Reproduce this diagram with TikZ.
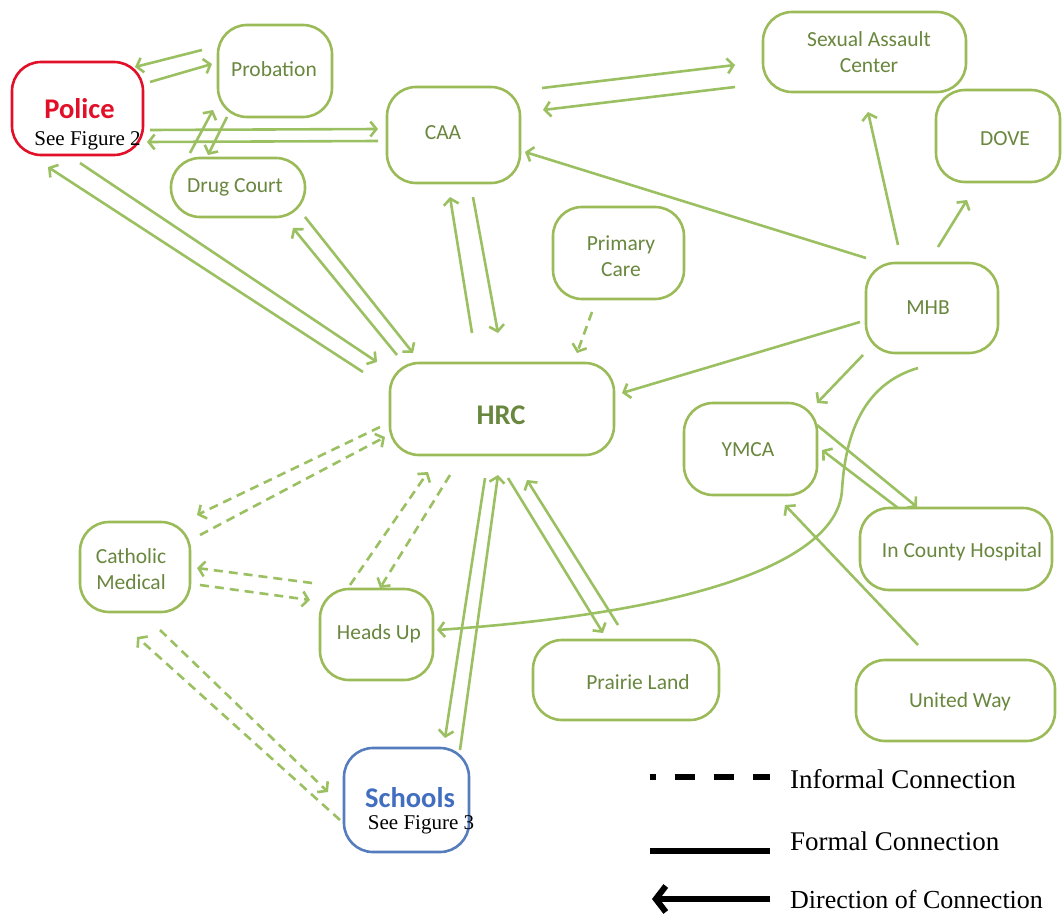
\documentclass[tikz,border=0pt]{standalone}
\usepackage{fontspec}
\setmainfont{Liberation Serif}
\newfontfamily\calib{Carlito}
\usetikzlibrary{arrows.meta,calc}
\definecolor{boxg}{RGB}{155,187,89}
\definecolor{lineg}{RGB}{155,192,98}
\definecolor{txtg}{RGB}{105,135,62}
\definecolor{polred}{RGB}{225,15,40}
\definecolor{schblue}{RGB}{85,125,190}
\definecolor{schtxt}{RGB}{65,110,190}
\begin{document}
\begin{tikzpicture}[x=1pt,y=-1pt,
  box/.style={draw=boxg, line width=2.6pt, rounded corners=29pt, inner sep=0pt, fill=white},
  lbl/.style={font=\calib\fontsize{21.5}{26}\selectfont, text=txtg, align=center, inner sep=0pt},
  bigl/.style={font=\calib\bfseries\fontsize{28.5}{32}\selectfont, inner sep=0pt},
  fig/.style={font=\fontsize{21}{24}\selectfont, text=black, inner sep=0pt, anchor=base},
  con/.style={draw=lineg, line width=2.6pt, -{Straight Barb[length=6pt,width=15pt]}},
  dsh/.style={con, dash pattern=on 9pt off 6pt},
  lgtext/.style={font=\fontsize{27}{32}\selectfont, anchor=base west, inner sep=0pt}
]
\useasboundingbox (0,0) rectangle (1062,915);

% ---------- boxes ----------
\node[box, draw=polred, minimum width=131pt, minimum height=93pt] (police) at (77.5,108.5) {};
\node[box, minimum width=114pt, minimum height=92pt] (prob) at (275,71) {};
\node[box, minimum width=133pt, minimum height=96pt] (caa) at (453.5,135) {};
\node[box, minimum width=134pt, minimum height=59pt] (drug) at (238,187.5) {};
\node[box, minimum width=203pt, minimum height=80pt] (sac) at (864.5,52) {};
\node[box, minimum width=124pt, minimum height=92pt] (dove) at (998,136) {};
\node[box, minimum width=131pt, minimum height=92pt] (prim) at (618.5,253) {};
\node[box, minimum width=132pt, minimum height=90pt] (mhb) at (932,308) {};
\node[box, minimum width=224pt, minimum height=92pt] (hrc) at (502,409) {};
\node[box, minimum width=133pt, minimum height=92pt] (ymca) at (750.5,449) {};
\node[box, minimum width=110pt, minimum height=90pt] (cath) at (135,567) {};
\node[box, minimum width=113pt, minimum height=91pt] (heads) at (376.5,634.5) {};
\node[box, minimum width=192pt, minimum height=82pt] (hosp) at (956,549) {};
\node[box, minimum width=186pt, minimum height=80pt] (prairie) at (626,680) {};
\node[box, minimum width=199pt, minimum height=81pt] (uway) at (955.5,700.5) {};
\node[box, draw=schblue, minimum width=125pt, minimum height=104pt] (schools) at (406.5,800) {};

% ---------- labels ----------
\node[bigl, text=polred, anchor=base] (police-t) at (79.5,118) {Police};
\node[fig] (police-f) at (87.5,146) {See Figure 2};
\node[lbl] (prob-t) at (274,69) {Probation};
\node[lbl] (caa-t) at (443,133) {CAA};
\node[lbl] (drug-t) at (235,187) {Drug Court};
\node[lbl] (sac-t) at (869,52) {Sexual Assault\\Center};
\node[lbl] (dove-t) at (1005,139) {DOVE};
\node[lbl] (prim-t) at (621,256) {Primary\\Care};
\node[lbl] (mhb-t) at (928,308) {MHB};
\node[bigl, text=txtg] (hrc-t) at (501,415) {HRC};
\node[lbl] (ymca-t) at (748,450) {YMCA};
\node[lbl] (cath-t) at (131,569) {Catholic\\Medical};
\node[lbl] (heads-t) at (379,634) {Heads Up};
\node[lbl] (hosp-t) at (962,552) {In County Hospital};
\node[lbl] (prairie-t) at (638,682) {Prairie Land};
\node[lbl] (uway-t) at (960,702) {United Way};
\node[bigl, text=schtxt, anchor=base] (schools-t) at (410,807) {Schools};
\node[fig] (schools-f) at (421,829) {See Figure 3};

% ---------- formal connections ----------
\draw[con] ([shift={(-73,-21)}]prob.center) -- ([shift={(57.5,-41.5)}]police.center);
\draw[con] ([shift={(72.5,-26.5)}]police.center) -- ([shift={(-63,-7)}]prob.center);
\draw[con] ([shift={(72.5,21.5)}]police.center) -- ([shift={(-75.5,-6)}]caa.center);
\draw[con] ([shift={(-75.5,6)}]caa.center) -- ([shift={(69.5,33.5)}]police.center);
\draw[con] ([shift={(-48,-34.5)}]drug.center) -- ([shift={(-62,39)}]prob.center);
\draw[con] ([shift={(-48,46)}]prob.center) -- ([shift={(-30,-32.5)}]drug.center);
\draw[con] ([shift={(-139,-37)}]hrc.center) -- ([shift={(-29.5,58.5)}]police.center);
\draw[con] ([shift={(2.5,54.5)}]police.center) -- ([shift={(-125,-47)}]hrc.center);
\draw[con] ([shift={(-105,-54)}]hrc.center) -- ([shift={(55,40.5)}]drug.center);
\draw[con] ([shift={(67,29.5)}]drug.center) -- ([shift={(-89,-56)}]hrc.center);
\draw[con] ([shift={(-30,-76)}]hrc.center) -- ([shift={(-3.5,62)}]caa.center);
\draw[con] ([shift={(19.5,62)}]caa.center) -- ([shift={(-4,-76)}]hrc.center);
\draw[con] ([shift={(-72,14)}]mhb.center) -- ([shift={(120,-16)}]hrc.center);
\draw[con] ([shift={(-66,-50)}]mhb.center) -- ([shift={(71.5,17)}]caa.center);
\draw[con] ([shift={(88.5,-47)}]caa.center) -- ([shift={(-129.5,13)}]sac.center);
\draw[con] ([shift={(-129.5,35)}]sac.center) -- ([shift={(89.5,-25)}]caa.center);
\draw[con] ([shift={(-34,-63)}]mhb.center) -- ([shift={(3.5,60)}]sac.center);
\draw[con] ([shift={(6,-61)}]mhb.center) -- ([shift={(-31,64)}]dove.center);
\draw[con] ([shift={(-69,47)}]mhb.center) -- ([shift={(66.5,-46)}]ymca.center);
\draw[con] ([shift={(-14,60)}]mhb.center) .. controls (860,385) and (845,440) .. (842,490)
   .. controls (838,560) and (700,612) .. ([shift={(60.5,-4.5)}]heads.center);
\draw[con] ([shift={(66.5,-24)}]ymca.center) -- ([shift={(-39,-42)}]hosp.center);
\draw[con] ([shift={(-58,-41)}]hosp.center) -- ([shift={(71.5,1)}]ymca.center);
\draw[con] ([shift={(-37.5,-55.5)}]uway.center) -- ([shift={(34.5,56)}]ymca.center);
\draw[con] ([shift={(6,69)}]hrc.center) -- ([shift={(-23,-47)}]prairie.center);
\draw[con] ([shift={(-8,-55)}]prairie.center) -- ([shift={(25,71)}]hrc.center);
\draw[con] ([shift={(-17,69)}]hrc.center) -- ([shift={(38.5,-62)}]schools.center);
\draw[con] ([shift={(53.5,-50)}]schools.center) -- ([shift={(-4,66)}]hrc.center);

% ---------- informal connections ----------
\draw[dsh] ([shift={(-26.5,59)}]prim.center) -- ([shift={(75,-56)}]hrc.center);
\draw[dsh] ([shift={(-26.5,-49.5)}]heads.center) -- ([shift={(-74,63)}]hrc.center);
\draw[dsh] ([shift={(-52,66)}]hrc.center) -- ([shift={(3.5,-46.5)}]heads.center);
\draw[dsh] ([shift={(-122,18)}]hrc.center) -- ([shift={(62,-52)}]cath.center);
\draw[dsh] ([shift={(65,-32)}]cath.center) -- ([shift={(-117,28)}]hrc.center);
\draw[dsh] ([shift={(-64.5,-51.5)}]heads.center) -- ([shift={(62,1)}]cath.center);
\draw[dsh] ([shift={(65,18)}]cath.center) -- ([shift={(-66.5,-34.5)}]heads.center);
\draw[dsh] ([shift={(-66.5,20)}]schools.center) -- ([shift={(2,70)}]cath.center);
\draw[dsh] ([shift={(25,63)}]cath.center) -- ([shift={(-78.5,-8)}]schools.center);

% ---------- legend ----------
\coordinate (lg1a) at (650,777);
\coordinate (lg1b) at (770,777);
\coordinate (lg2a) at (650,851);
\coordinate (lg2b) at (770,851);
\coordinate (lg3a) at (770,899);
\coordinate (lg3b) at (652,899);
\draw[line width=6pt, dash pattern=on 20pt off 19pt, dash phase=14pt] (lg1a) -- (lg1b);
\draw[line width=6pt] (lg2a) -- (lg2b);
\draw[line width=6pt, -{Straight Barb[length=10pt,width=26pt]}] (lg3a) -- (lg3b);
\node[lgtext] (lg1t) at (790,788) {Informal Connection};
\node[lgtext] (lg2t) at (790,850) {Formal Connection};
\node[lgtext, font=\fontsize{26}{30}\selectfont] (lg3t) at (790,908) {Direction of Connection};
\end{tikzpicture}
\end{document}
